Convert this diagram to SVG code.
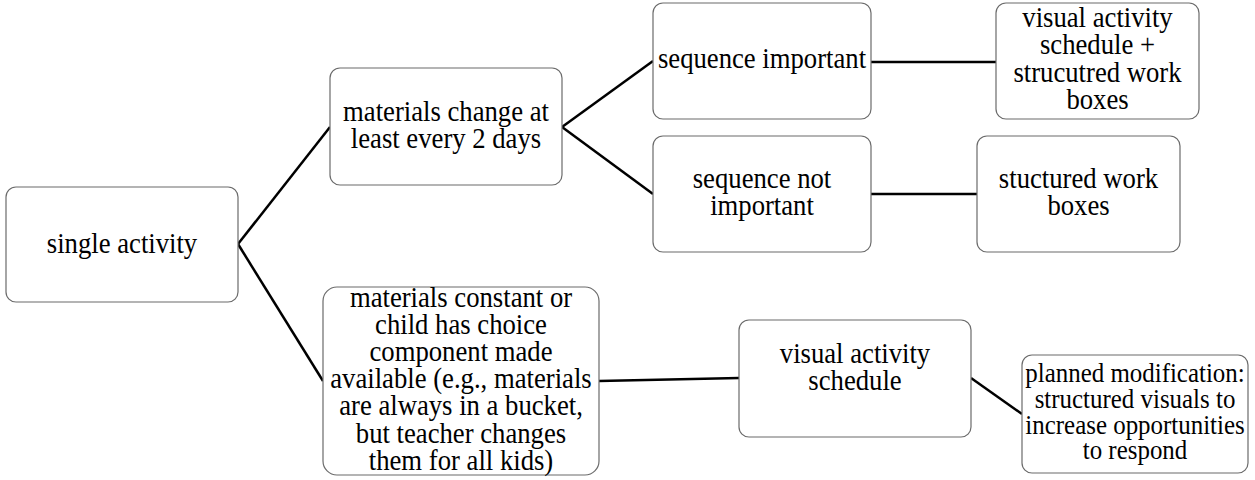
<svg xmlns="http://www.w3.org/2000/svg" width="1255" height="480" viewBox="0 0 1255 480">
<style>
.box{fill:#ffffff;stroke:#6b6b6b;stroke-width:1.2}
text{font-family:'Liberation Serif','Times New Roman',serif;font-size:30px;fill:#000;text-anchor:middle}
text.sm{font-size:28px}
.conn{stroke:#000;stroke-width:2.5;fill:none}
</style>
<rect width="1255" height="480" fill="#ffffff"/>
<g id="connectors">
<line class="conn" x1="238" y1="244" x2="330" y2="127"/>
<line class="conn" x1="238" y1="244" x2="323" y2="381"/>
<line class="conn" x1="562" y1="127" x2="653" y2="61"/>
<line class="conn" x1="562" y1="127" x2="653" y2="194"/>
<line class="conn" x1="871" y1="62" x2="996" y2="62"/>
<line class="conn" x1="871" y1="194" x2="977" y2="194"/>
<line class="conn" x1="599" y1="381" x2="739" y2="378"/>
<line class="conn" x1="971" y1="378" x2="1022" y2="414"/>
</g>
<g id="n1">
<rect class="box" x="6" y="187" width="232" height="115" rx="10"/>
<text transform="translate(122 0) scale(0.89 1)" x="0" y="253">single activity</text>
</g>
<g id="n2">
<rect class="box" x="330" y="68" width="232" height="117" rx="10"/>
<text transform="translate(446 0) scale(0.89 1)"><tspan x="0" y="121">materials change at</tspan><tspan x="0" y="148.3">least every 2 days</tspan></text>
</g>
<g id="n3">
<rect class="box" x="653" y="3" width="218" height="116" rx="10"/>
<text transform="translate(762 0) scale(0.89 1)" x="0" y="68.3">sequence important</text>
</g>
<g id="n4">
<rect class="box" x="996" y="3" width="203" height="116" rx="10"/>
<text transform="translate(1097.5 0) scale(0.89 1)"><tspan x="0" y="27">visual activity</tspan><tspan x="0" y="54.3">schedule +</tspan><tspan x="0" y="81.6">strucutred work</tspan><tspan x="0" y="108.9">boxes</tspan></text>
</g>
<g id="n5">
<rect class="box" x="653" y="136" width="218" height="116" rx="10"/>
<text transform="translate(762 0) scale(0.89 1)"><tspan x="0" y="188.3">sequence not</tspan><tspan x="0" y="215.3">important</tspan></text>
</g>
<g id="n6">
<rect class="box" x="977" y="136" width="203" height="116" rx="10"/>
<text transform="translate(1078.5 0) scale(0.89 1)"><tspan x="0" y="188.3">stuctured work</tspan><tspan x="0" y="215.3">boxes</tspan></text>
</g>
<g id="n7">
<rect class="box" x="323" y="287" width="276" height="188" rx="14"/>
<text transform="translate(461 0) scale(0.89 1)"><tspan x="0" y="306.7">materials constant or</tspan><tspan x="0" y="333.9">child has choice</tspan><tspan x="0" y="361.1">component made</tspan><tspan x="0" y="388.3">available (e.g., materials</tspan><tspan x="0" y="415.5">are always in a bucket,</tspan><tspan x="0" y="442.7">but teacher changes</tspan><tspan x="0" y="469.9">them for all kids)</tspan></text>
</g>
<g id="n8">
<rect class="box" x="739" y="320" width="232" height="117" rx="10"/>
<text transform="translate(855 0) scale(0.89 1)"><tspan x="0" y="363.3">visual activity</tspan><tspan x="0" y="390.3">schedule</tspan></text>
</g>
<g id="n9">
<rect class="box" x="1022" y="355" width="226" height="118" rx="10"/>
<text class="sm" transform="translate(1135 0) scale(0.89 1)"><tspan x="0" y="381.7">planned modification:</tspan><tspan x="0" y="407.7">structured visuals to</tspan><tspan x="0" y="433.7">increase opportunities</tspan><tspan x="0" y="459.5">to respond</tspan></text>
</g>
</svg>
